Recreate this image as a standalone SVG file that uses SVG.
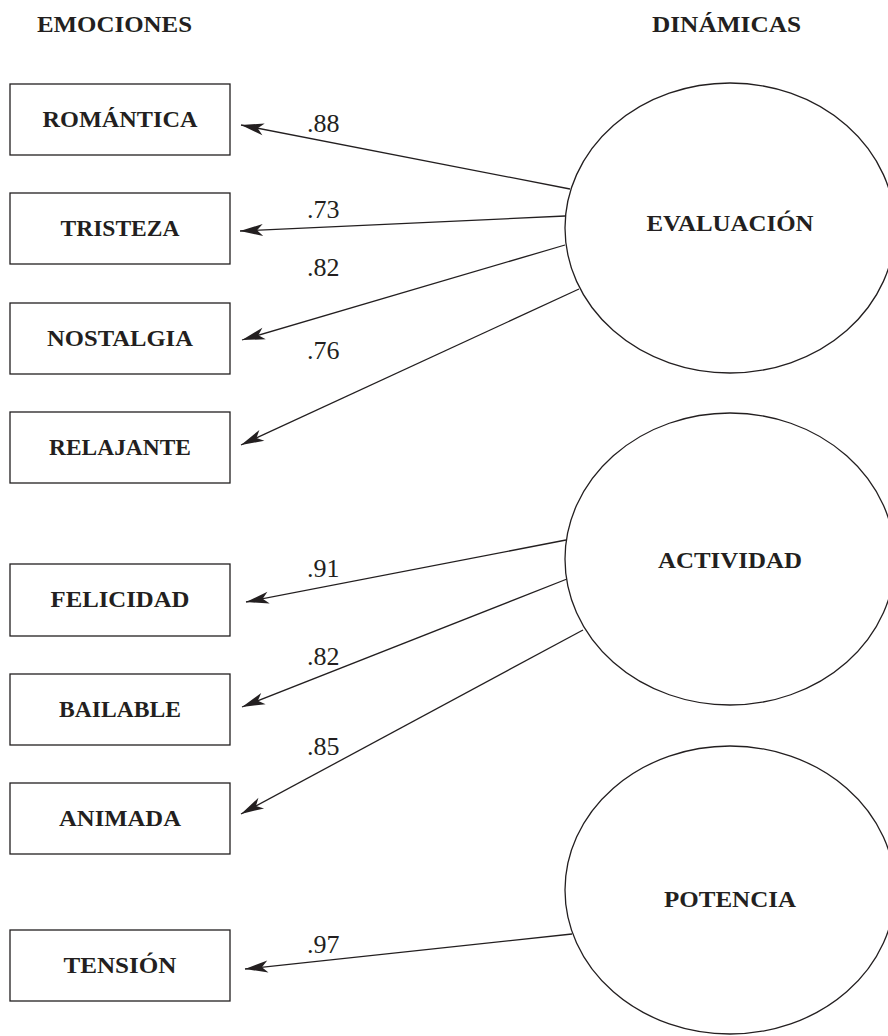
<svg xmlns="http://www.w3.org/2000/svg" width="888" height="1036" viewBox="0 0 888 1036">
<style>
  .box { fill: #ffffff; stroke: #231f20; stroke-width: 1.3; }
  .ell { fill: #ffffff; stroke: #231f20; stroke-width: 1.3; }
  .lbl { font-family: "Liberation Serif", "DejaVu Serif", serif; font-weight: bold; font-size: 24px; fill: #231f20; text-anchor: middle; }
  .hdr { font-family: "Liberation Serif", "DejaVu Serif", serif; font-weight: bold; font-size: 23px; fill: #231f20; }
  .num { font-family: "Liberation Serif", "DejaVu Serif", serif; font-size: 26px; fill: #231f20; }
  .edge { stroke: #231f20; stroke-width: 1.3; fill: none; marker-end: url(#arr); }
</style>
<defs>
  <marker id="arr" viewBox="-24 -8 26 16" markerWidth="26" markerHeight="16" refX="0" refY="0" orient="auto" markerUnits="userSpaceOnUse">
    <path d="M0,0 L-23,-6 L-17,0 L-23,6 Z" fill="#231f20"/>
  </marker>
</defs>
<rect width="888" height="1036" fill="#ffffff"/>

<g id="headers">
  <text class="hdr" x="37" y="32" textLength="155" lengthAdjust="spacingAndGlyphs">EMOCIONES</text>
  <text class="hdr" x="652" y="32" textLength="149" lengthAdjust="spacingAndGlyphs">DINÁMICAS</text>
</g>

<g id="connectors">
  <line class="edge" x1="570" y1="189" x2="241" y2="125"/>
  <line class="edge" x1="565" y1="216" x2="240" y2="231"/>
  <line class="edge" x1="565" y1="245" x2="242" y2="340"/>
  <line class="edge" x1="579" y1="289" x2="241" y2="445"/>
  <line class="edge" x1="566" y1="540" x2="246" y2="602"/>
  <line class="edge" x1="567" y1="579" x2="242" y2="707"/>
  <line class="edge" x1="583" y1="630" x2="241" y2="814"/>
  <line class="edge" x1="572" y1="934" x2="245" y2="969"/>
  <text class="num" x="307" y="132">.88</text>
  <text class="num" x="307" y="218">.73</text>
  <text class="num" x="307" y="276">.82</text>
  <text class="num" x="307" y="359">.76</text>
  <text class="num" x="307" y="577">.91</text>
  <text class="num" x="307" y="665">.82</text>
  <text class="num" x="307" y="755">.85</text>
  <text class="num" x="307" y="953">.97</text>
</g>

<g id="romantica">
  <rect class="box" x="10" y="84" width="220" height="71"/>
  <text class="lbl" x="120" y="127" textLength="155" lengthAdjust="spacingAndGlyphs">ROMÁNTICA</text>
</g>
<g id="tristeza">
  <rect class="box" x="10" y="193" width="220" height="71"/>
  <text class="lbl" x="120" y="236" textLength="119" lengthAdjust="spacingAndGlyphs">TRISTEZA</text>
</g>
<g id="nostalgia">
  <rect class="box" x="10" y="303" width="220" height="71"/>
  <text class="lbl" x="120" y="346" textLength="146" lengthAdjust="spacingAndGlyphs">NOSTALGIA</text>
</g>
<g id="relajante">
  <rect class="box" x="10" y="412" width="220" height="71"/>
  <text class="lbl" x="120" y="455" textLength="142" lengthAdjust="spacingAndGlyphs">RELAJANTE</text>
</g>
<g id="felicidad">
  <rect class="box" x="10" y="564" width="220" height="72"/>
  <text class="lbl" x="120" y="607" textLength="139" lengthAdjust="spacingAndGlyphs">FELICIDAD</text>
</g>
<g id="bailable">
  <rect class="box" x="10" y="674" width="220" height="71"/>
  <text class="lbl" x="120" y="717" textLength="122" lengthAdjust="spacingAndGlyphs">BAILABLE</text>
</g>
<g id="animada">
  <rect class="box" x="10" y="783" width="220" height="71"/>
  <text class="lbl" x="120" y="826" textLength="122" lengthAdjust="spacingAndGlyphs">ANIMADA</text>
</g>
<g id="tension">
  <rect class="box" x="10" y="930" width="220" height="71"/>
  <text class="lbl" x="120" y="973" textLength="113" lengthAdjust="spacingAndGlyphs">TENSIÓN</text>
</g>

<g id="evaluacion">
  <ellipse class="ell" cx="730" cy="228" rx="165" ry="145"/>
  <text class="lbl" x="730" y="231" textLength="167" lengthAdjust="spacingAndGlyphs">EVALUACIÓN</text>
</g>
<g id="actividad">
  <ellipse class="ell" cx="730" cy="559" rx="165" ry="146"/>
  <text class="lbl" x="730" y="568" textLength="144" lengthAdjust="spacingAndGlyphs">ACTIVIDAD</text>
</g>
<g id="potencia">
  <ellipse class="ell" cx="730" cy="890" rx="165" ry="144"/>
  <text class="lbl" x="730" y="907" textLength="132" lengthAdjust="spacingAndGlyphs">POTENCIA</text>
</g>
</svg>
